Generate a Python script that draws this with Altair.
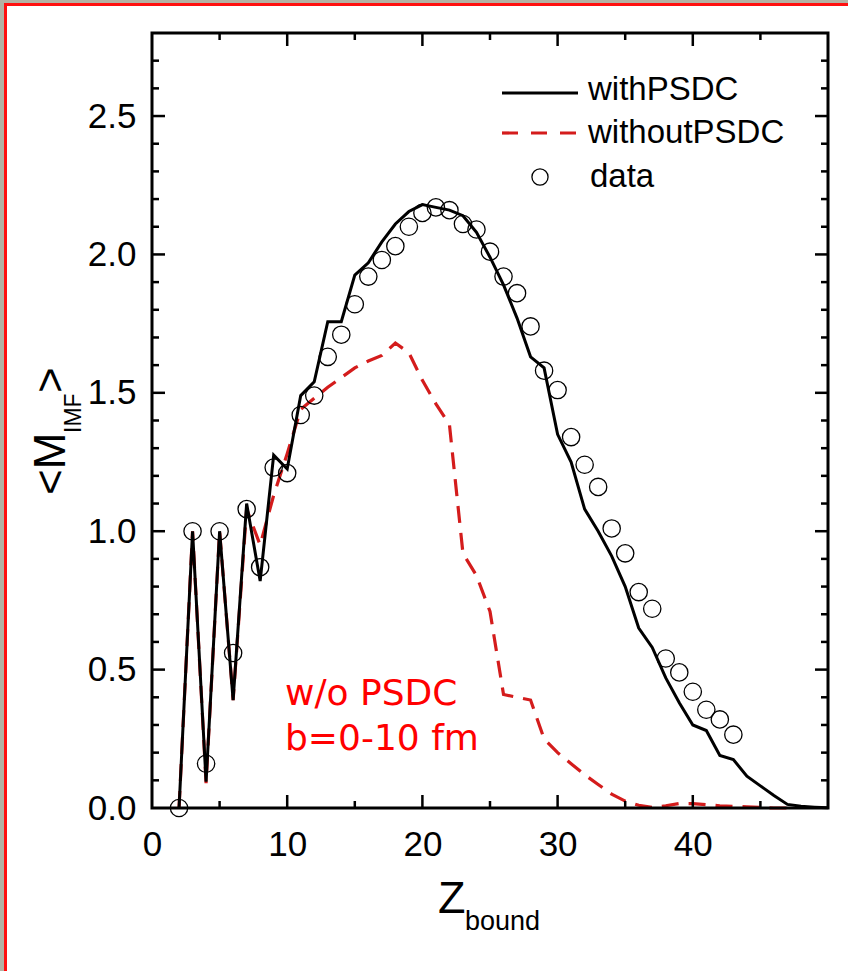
import altair as alt
import pandas as pd

# ---------------- data ----------------
z_data = list(range(2, 44))
m_data = [0.0, 1.0, 0.16, 1.0, 0.56, 1.08, 0.87, 1.23, 1.21, 1.42, 1.49, 1.63, 1.71,
          1.82, 1.92, 1.98, 2.03, 2.10, 2.15, 2.17, 2.16, 2.11, 2.09, 2.01, 1.92, 1.86,
          1.74, 1.58, 1.51, 1.34, 1.24, 1.16, 1.01, 0.92, 0.78, 0.72, 0.54, 0.49, 0.42,
          0.355, 0.32, 0.265]

z_with = list(range(2, 51))
m_with = [0.0, 1.0, 0.095, 1.0, 0.39, 1.10, 0.82, 1.275, 1.225, 1.49, 1.54, 1.757, 1.757,
          1.925, 1.97, 2.045, 2.11, 2.155, 2.18, 2.17, 2.16, 2.14, 2.08, 1.99, 1.89, 1.77,
          1.63, 1.59, 1.35, 1.25, 1.08, 1.00, 0.91, 0.80, 0.65, 0.58, 0.47, 0.38, 0.30,
          0.28, 0.19, 0.175, 0.115, 0.08, 0.045, 0.013, 0.006, 0.003, 0.001]

z_without = list(range(2, 48))
m_without = [0.0, 1.0, 0.09, 1.0, 0.39, 1.08, 0.95, 1.13, 1.28, 1.44, 1.48, 1.52, 1.555,
             1.59, 1.615, 1.635, 1.68, 1.645, 1.545, 1.46, 1.385, 0.92, 0.84, 0.71, 0.41,
             0.40, 0.39, 0.25, 0.20, 0.16, 0.12, 0.085, 0.05, 0.025, 0.01, 0.002, 0.008,
             0.016, 0.016, 0.012, 0.008, 0.006, 0.004, 0.002, 0.0, 0.0]

x_labels = [0, 10, 20, 30, 40]
y_labels = [0.0, 0.5, 1.0, 1.5, 2.0, 2.5]
x_major = [10, 20, 30, 40]
x_minor = [5, 15, 25, 35, 45]
y_major = [0.5, 1.0, 1.5, 2.0, 2.5]
y_minor = [0.1, 0.2, 0.3, 0.4, 0.6, 0.7, 0.8, 0.9, 1.1, 1.2, 1.3, 1.4, 1.6, 1.7, 1.8,
           1.9, 2.1, 2.2, 2.3, 2.4, 2.6, 2.7]

legend_labels = ["withPSDC", "withoutPSDC", "data"]
note_lines = ["w/o PSDC", "b=0-10 fm"]

# ---------------- layout ----------------
W, H = 676, 775
FONT = "Liberation Sans"
RED = "#d41c1c"
DASH = [17, 10]
xs = alt.Scale(domain=[0, 50], nice=False, zero=False)
ys = alt.Scale(domain=[0, 2.8], nice=False, zero=False)

xax = alt.Axis(values=x_labels, format="d", title=None, grid=False, ticks=False, tickSize=0,
               domain=False, labelFont=FONT, labelFontSize=35, labelColor="black",
               labelPadding=19, labelFlush=False, labelOverlap=False, zindex=1)
yax = alt.Axis(values=y_labels, format=".1f", title=None, grid=False, ticks=False, tickSize=0,
               domain=False, labelFont=FONT, labelFontSize=35, labelColor="black",
               labelPadding=16, labelFlush=False, labelOverlap=False, zindex=1)

one = pd.DataFrame({"a": [0]})

frame = alt.Chart(one).mark_rect(fill="white", stroke="#ff1010", strokeWidth=3).encode(
    x=alt.value(-146.5), x2=alt.value(W + 60), y=alt.value(-28.5), y2=alt.value(H + 200))

df_without = pd.DataFrame({"Z": z_without, "M": m_without})
df_with = pd.DataFrame({"Z": z_with, "M": m_with})
df_data = pd.DataFrame({"Z": z_data, "M": m_data})

line_without = alt.Chart(df_without).mark_line(
    color=RED, strokeWidth=3.2, strokeDash=DASH).encode(
    x=alt.X("Z:Q", scale=xs, axis=xax), y=alt.Y("M:Q", scale=ys, axis=yax))
line_with = alt.Chart(df_with).mark_line(color="black", strokeWidth=3).encode(
    x=alt.X("Z:Q", scale=xs, axis=xax), y=alt.Y("M:Q", scale=ys, axis=yax))
points = alt.Chart(df_data).mark_point(
    shape="circle", size=300, color="black", strokeWidth=1.3, filled=False, opacity=1).encode(
    x=alt.X("Z:Q", scale=xs, axis=xax), y=alt.Y("M:Q", scale=ys, axis=yax))


def xticks(vals, length):
    d = pd.DataFrame({"v": vals})
    b = alt.Chart(d).mark_rule(color="black", strokeWidth=2.5).encode(
        x=alt.X("v:Q", scale=xs, axis=xax), y=alt.value(H), y2=alt.value(H - length))
    t = alt.Chart(d).mark_rule(color="black", strokeWidth=2.5).encode(
        x=alt.X("v:Q", scale=xs, axis=xax), y=alt.value(0), y2=alt.value(length))
    return [b, t]


def yticks(vals, length):
    d = pd.DataFrame({"v": vals})
    l = alt.Chart(d).mark_rule(color="black", strokeWidth=2.5).encode(
        y=alt.Y("v:Q", scale=ys, axis=yax), x=alt.value(0), x2=alt.value(length))
    r = alt.Chart(d).mark_rule(color="black", strokeWidth=2.5).encode(
        y=alt.Y("v:Q", scale=ys, axis=yax), x=alt.value(W), x2=alt.value(W - length))
    return [l, r]


ticks = xticks(x_major, 13) + xticks(x_minor, 7) + yticks(y_major, 13) + yticks(y_minor, 7)

box = alt.Chart(one).mark_rect(fillOpacity=0, stroke="black", strokeWidth=3).encode(
    x=alt.value(0), x2=alt.value(W), y=alt.value(0), y2=alt.value(H))


def text(s, x, y, size, color="black", font=FONT, angle=0):
    return alt.Chart(one).mark_text(
        text=s, font=font, fontSize=size, color=color, align="left",
        baseline="alphabetic", angle=angle).encode(x=alt.value(x), y=alt.value(y))


titles = [
    text("Z", 286, 880, 45),
    text("bound", 313, 897, 27),
    text("<M", -87, 462, 44, angle=270),
    text("IMF", -71, 400, 23, angle=270),
    text(">", -87, 360, 44, angle=270),
]

leg_solid = alt.Chart(one).mark_rule(color="black", strokeWidth=3).encode(
    x=alt.value(350), x2=alt.value(426), y=alt.value(60))
leg_dash = alt.Chart(one).mark_rule(color=RED, strokeWidth=3.2, strokeDash=[16, 13]).encode(
    x=alt.value(350), x2=alt.value(426), y=alt.value(100))
leg_pt = alt.Chart(one).mark_point(shape="circle", size=260, color="black", strokeWidth=1.3,
                                   filled=False, opacity=1).encode(
    x=alt.value(388), y=alt.value(144))
legend = [leg_solid, leg_dash, leg_pt,
          text(legend_labels[0], 436, 67, 33),
          text(legend_labels[1], 436, 110, 33),
          text(legend_labels[2], 438, 154, 33)]

notes = [text(note_lines[0], 133, 672, 36, color="#ff0000", font="DejaVu Sans"),
         text(note_lines[1], 133, 717, 36, color="#ff0000", font="DejaVu Sans")]

chart = alt.layer(frame, line_without, line_with, points, *ticks, box,
                  *titles, *legend, *notes).properties(
    width=W, height=H,
    autosize=alt.AutoSizeParams(type="none"),
    padding={"left": 152, "top": 33, "right": 20, "bottom": 163},
    background="#b4b2a4",
).configure_view(stroke=None)

chart.save("out.html", embed_options={"renderer": "svg", "actions": False})
